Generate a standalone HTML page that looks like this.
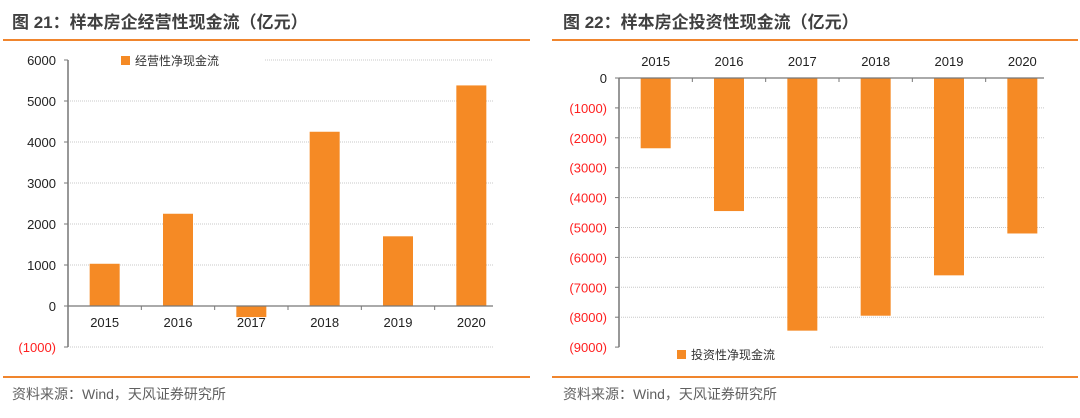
<!DOCTYPE html>
<html><head><meta charset="utf-8"><style>
body{margin:0;background:#fff;width:1080px;height:413px;overflow:hidden;font-family:"Liberation Sans","Noto Sans CJK SC",sans-serif}
</style></head><body>
<svg id="s" width="1080" height="413" xmlns="http://www.w3.org/2000/svg" font-family="Liberation Sans, Noto Sans CJK SC, sans-serif">
<text x="12" y="28" font-size="17" font-weight="bold" fill="#404040">图 21：样本房企经营性现金流（亿元）</text>
<text x="563" y="28" font-size="17" font-weight="bold" fill="#404040">图 22：样本房企投资性现金流（亿元）</text>
<rect x="3" y="39" width="527" height="2" fill="#f0852d"/>
<rect x="552" y="39" width="526" height="2" fill="#f0852d"/>
<rect x="3" y="376" width="527" height="2" fill="#f0852d"/>
<rect x="552" y="376" width="526" height="2" fill="#f0852d"/>
<text x="12" y="399" font-size="14" fill="#606060">资料来源：Wind，天风证券研究所</text>
<text x="563" y="399" font-size="14" fill="#606060">资料来源：Wind，天风证券研究所</text>
<rect x="121" y="56" width="9" height="9" fill="#f58a25"/>
<text x="135" y="65" font-size="12" fill="#333">经营性净现金流</text>
<rect x="677" y="350" width="9" height="9" fill="#f58a25"/>
<text x="691" y="359" font-size="12" fill="#333">投资性净现金流</text>
<g id="L"></g><g id="R"></g>
</svg>
<script>
const years=["2015","2016","2017","2018","2019","2020"];
const opValues=[1030,2250,-270,4250,1700,5380];
const invValues=[-2350,-4450,-8450,-7950,-6600,-5200];
const opTicks=[6000,5000,4000,3000,2000,1000,0,-1000];
const invTicks=[0,-1000,-2000,-3000,-4000,-5000,-6000,-7000,-8000,-9000];
const NS="http://www.w3.org/2000/svg";
function mk(p,t,a){const e=document.createElementNS(NS,t);for(const k in a)e.setAttribute(k,a[k]);p.appendChild(e);return e;}
function fmt(v){return v<0?"("+(-v)+")":String(v);}
function draw(g,vals,ticks,ax,right,y0,pxPer,labelTop,gridSkip){
  const y=v=>y0-v*pxPer/1000;
  const step=(right-ax)/years.length;
  const x=i=>ax+step*(i+0.5);
  const gEnd=right-15;
  ticks.forEach(t=>{
    if(t!==0){
      const s0=gridSkip(t);
      const l=mk(g,'line',{x1:s0,x2:gEnd,y1:y(t),y2:y(t),stroke:'#c8c8c8','stroke-dasharray':'1,1'});
      
      
    }
    const tk=mk(g,'line',{x1:ax-4,x2:ax,y1:y(t),y2:y(t),stroke:'#777'});
    
    
    const tx=mk(g,'text',{x:ax-12,y:y(t)+5,'font-size':13,'text-anchor':'end',fill:t<0?'#ff2020':'#222'});
    tx.textContent=fmt(t);
    
    
  });
  const ya=mk(g,'line',{x1:ax,x2:ax,y1:y(ticks[0]),y2:y(ticks[ticks.length-1]),stroke:'#777','stroke-width':1.5});
  
  
  vals.forEach((v,i)=>{
    const r=mk(g,'rect',{x:x(i)-15,width:30,y:Math.min(y(v),y0),height:Math.abs(y(v)-y0),fill:'#f58a25'});
    
    
    const t=mk(g,'text',{x:x(i),y:labelTop?y0-12:y0+21,'font-size':13,'text-anchor':'middle',fill:'#222'});
    t.textContent=years[i];
    
    
  });
  const xa=mk(g,'line',{x1:ax,x2:gEnd,y1:y0,y2:y0,stroke:'#777','stroke-width':1.2});
  
  
  for(let i=0;i<years.length;i++){
    const tk=mk(g,'line',{x1:ax+step*i,x2:ax+step*i,y1:y0,y2:y0+4,stroke:'#777'});
    
    
  }
}
draw(document.getElementById('L'),opValues,opTicks,68,508,306,41,false,t=>t===6000?265:70);
draw(document.getElementById('R'),invValues,invTicks,619,1059,78,29.9,true,t=>t===-9000?830:621);
</script>
</body></html>
